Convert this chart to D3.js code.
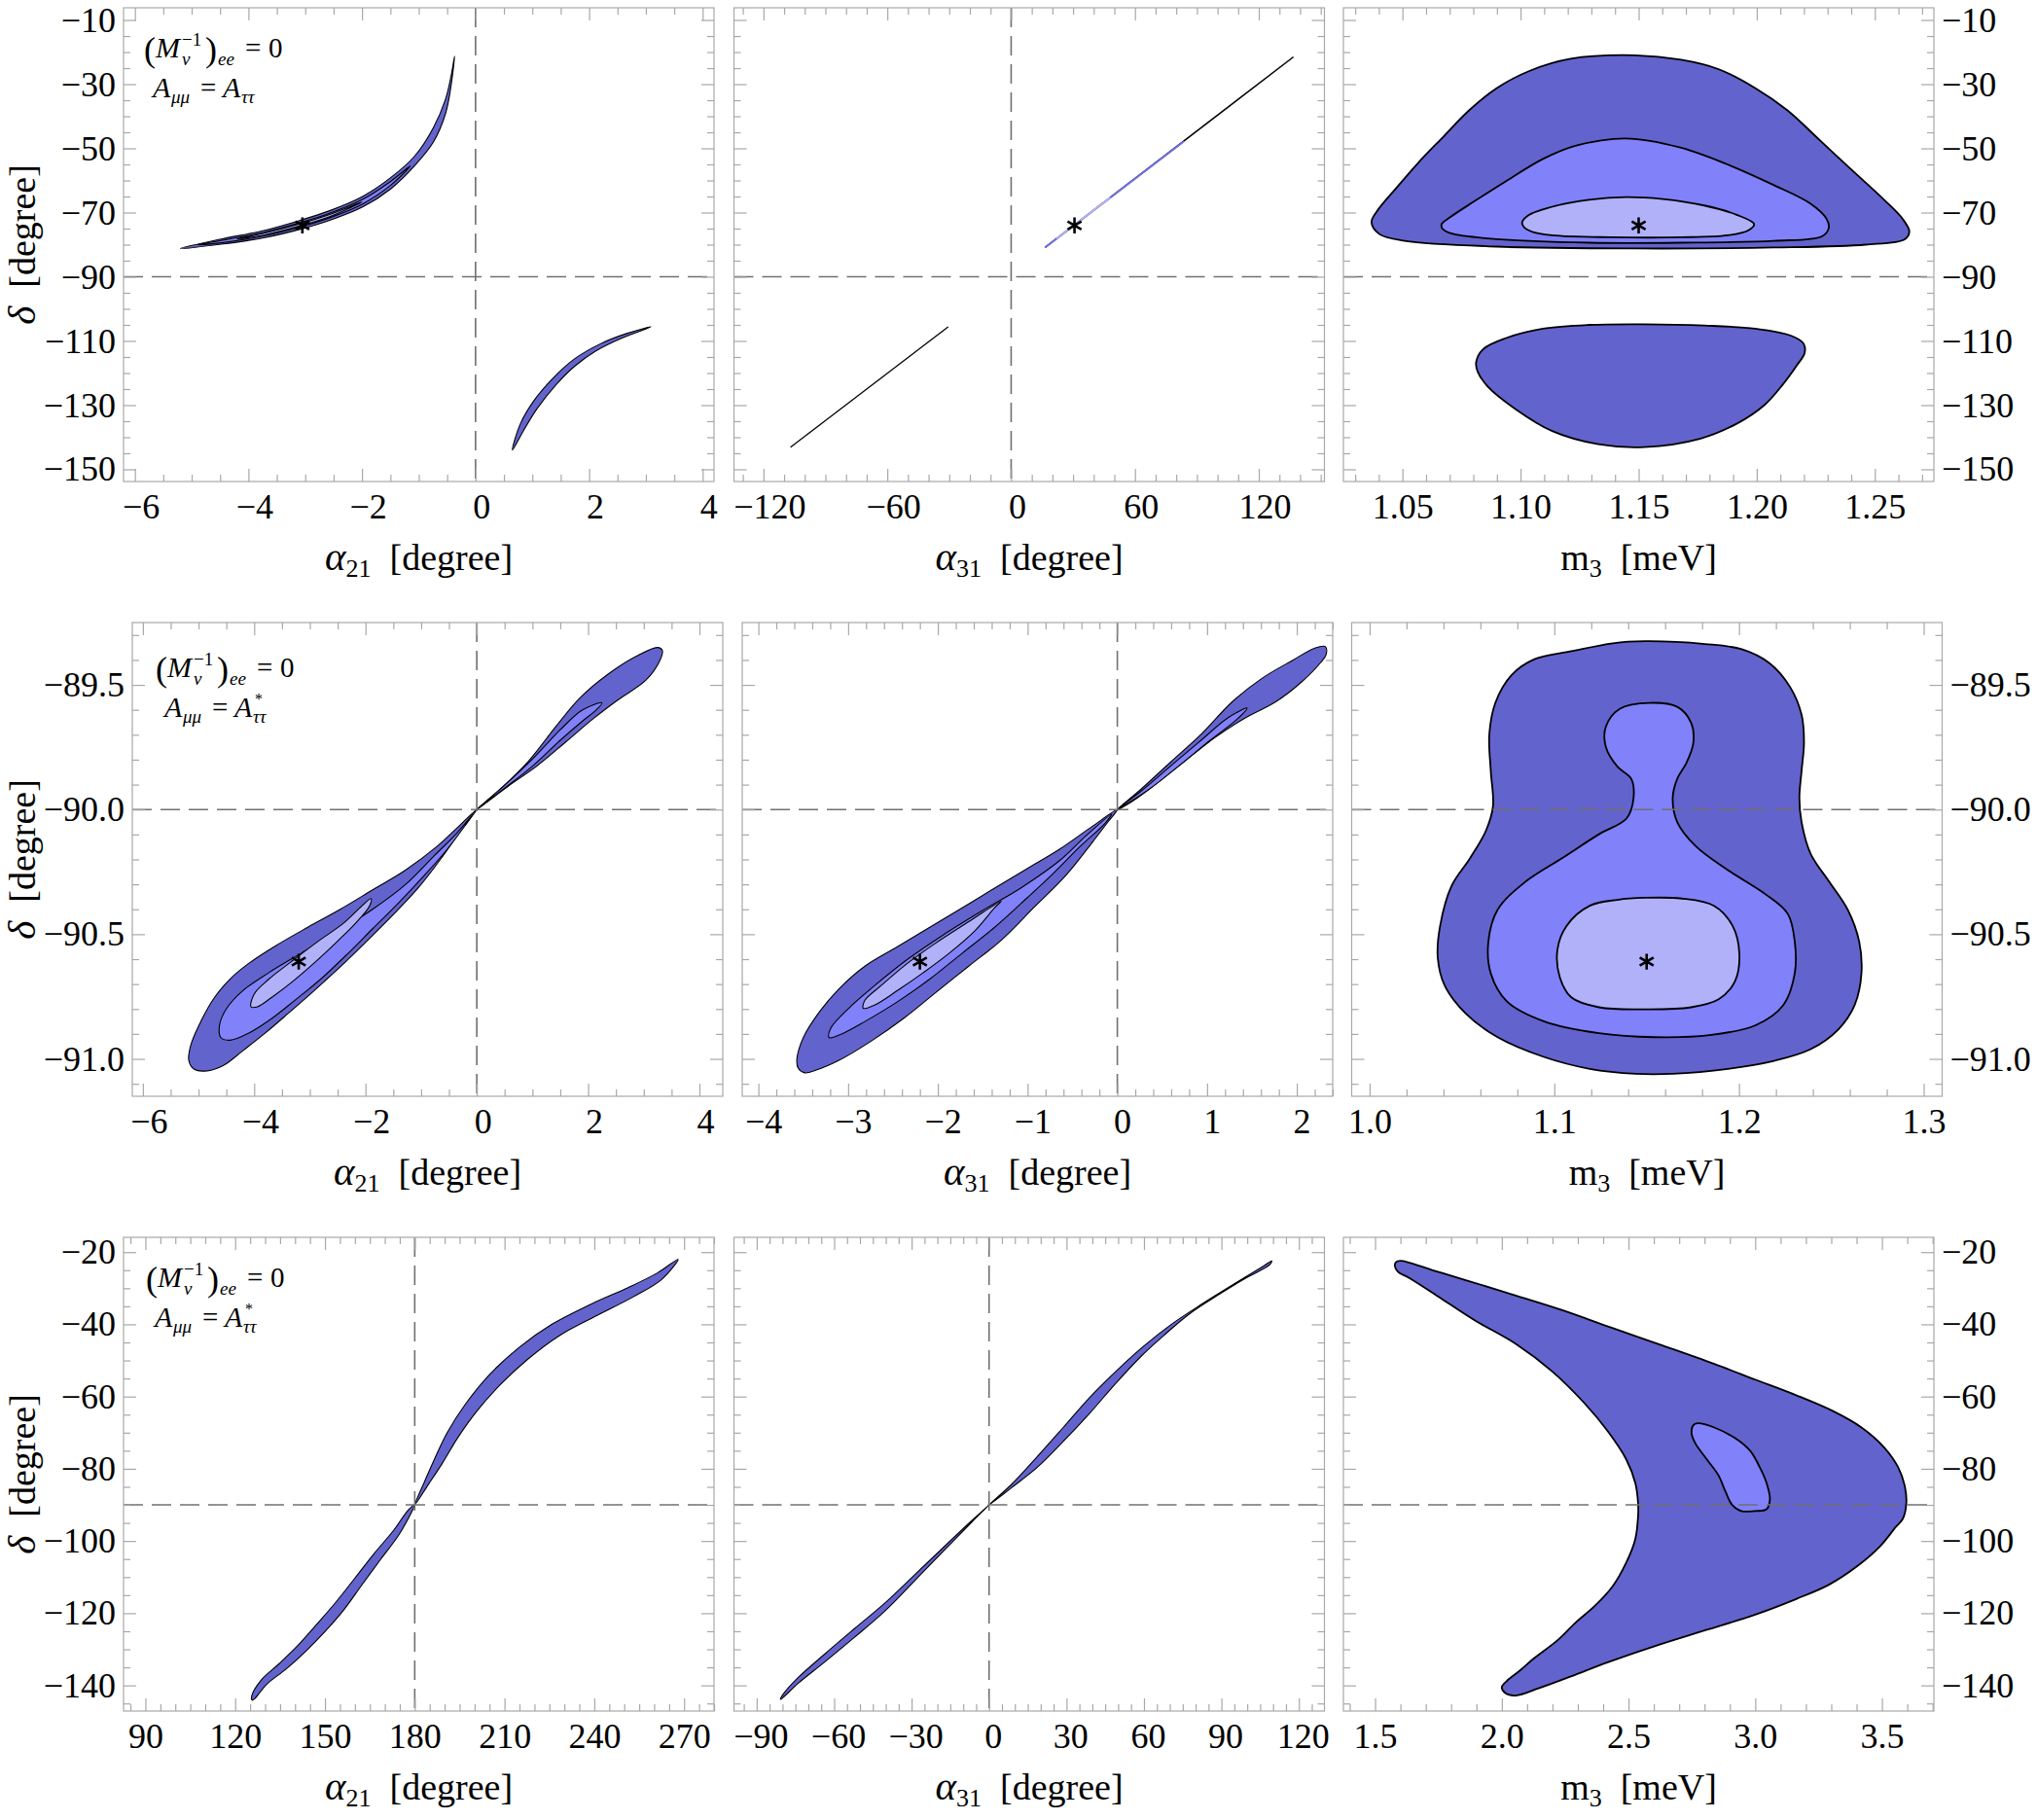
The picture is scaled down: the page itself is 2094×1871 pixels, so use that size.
<!doctype html>
<html>
<head>
<meta charset="utf-8">
<style>
  body { margin: 0; background: #fff; }
  svg { display: block; font-family: "Liberation Serif", "Times New Roman", serif; }
  .frame { fill: none; stroke: #a8a8a8; stroke-width: 1.2; }
  .ax line { stroke: #a8a8a8; stroke-width: 1.2; }
  .ax text { font-family: "Liberation Serif", serif; font-size: 36px; fill: #000; }
  .dash { stroke: #707070; stroke-width: 1.6; stroke-dasharray: 20 9; fill: none; }
  .title { font-size: 38px; fill: #000; }
  .ann text { fill: #000; }
</style>
<script src="https://d3js.org/d3.v7.min.js"></script>
</head>
<body>
<svg width="2094" height="1871"></svg>
<script>
// ---------- tick values / labels ----------
var tDelta1 = [-10, -30, -50, -70, -90, -110, -130, -150],
    lDelta1 = ["−10", "−30", "−50", "−70", "−90", "−110", "−130", "−150"];
var tDelta2 = [-89.5, -90, -90.5, -91],
    lDelta2 = ["−89.5", "−90.0", "−90.5", "−91.0"];
var tDelta3 = [-20, -40, -60, -80, -100, -120, -140],
    lDelta3 = ["−20", "−40", "−60", "−80", "−100", "−120", "−140"];

var tA21_1 = [-6, -4, -2, 0, 2, 4], lA21_1 = ["−6", "−4", "−2", "0", "2", "4"];
var tA31_1 = [-120, -60, 0, 60, 120], lA31_1 = ["−120", "−60", "0", "60", "120"];
var tM3_1 = [1.05, 1.10, 1.15, 1.20, 1.25], lM3_1 = ["1.05", "1.10", "1.15", "1.20", "1.25"];
var tA21_2 = [-6, -4, -2, 0, 2, 4], lA21_2 = ["−6", "−4", "−2", "0", "2", "4"];
var tA31_2 = [-4, -3, -2, -1, 0, 1, 2], lA31_2 = ["−4", "−3", "−2", "−1", "0", "1", "2"];
var tM3_2 = [1.0, 1.1, 1.2, 1.3], lM3_2 = ["1.0", "1.1", "1.2", "1.3"];
var tA21_3 = [90, 120, 150, 180, 210, 240, 270], lA21_3 = ["90", "120", "150", "180", "210", "240", "270"];
var tA31_3 = [-90, -60, -30, 0, 30, 60, 90, 120], lA31_3 = ["−90", "−60", "−30", "0", "30", "60", "90", "120"];
var tM3_3 = [1.5, 2.0, 2.5, 3.0, 3.5], lM3_3 = ["1.5", "2.0", "2.5", "3.0", "3.5"];

// ---------- contour regions, [x, delta] ----------
// row 1 : A_mumu = A_tautau
var r1a21DarkUp = [[-5.2,-81.2],[-4.48,-78.27],[-3.73,-75.59],[-3.07,-72.32],[-2.57,-69.43],[-1.99,-64.98],[-1.49,-59.06],[-1.07,-52.34],[-0.74,-43.45],[-0.53,-34.73],[-0.43,-27.34],[-0.37,-21.3],[-0.43,-30.34],[-0.53,-39.23],[-0.74,-47.95],[-1.07,-55.34],[-1.49,-62.56],[-1.99,-68.28],[-2.57,-72.43],[-3.07,-75.12],[-3.73,-77.89],[-4.48,-79.87]];
var r1a21MidUp = [[-4.9,-80.0],[-4.48,-78.72],[-3.73,-76.19],[-3.07,-73.07],[-2.57,-70.23],[-1.99,-65.93],[-1.49,-60.21],[-1.15,-55.5],[-1.49,-61.41],[-1.99,-67.33],[-2.57,-71.63],[-3.07,-74.37],[-3.73,-77.29],[-4.48,-79.42]];
var r1a21LightUp = [[-4.2,-78.2],[-3.73,-76.46],[-3.07,-73.4],[-2.57,-70.58],[-2.0,-66.7],[-2.57,-71.28],[-3.07,-74.05],[-3.73,-77.02]];
var r1a21DarkLow = [[0.65,-144.0],[0.79,-135.8],[1.04,-128.3],[1.38,-121.3],[1.75,-115.5],[2.21,-110.8],[2.66,-107.7],[3.09,-105.6],[2.58,-109.1],[2.12,-113.1],[1.75,-117.8],[1.42,-123.6],[1.08,-131.2],[0.84,-138.1]];

var r1a31LineUp = [[16.4,-80.9],[136.8,-21.5]];
var r1a31BlueUp = [[16.4,-80.9],[83.8,-47.8]];
var r1a31PaleUp = [[22,-78.1],[48,-65.3]];
var r1a31LineLow = [[-106.9,-143.1],[-30.5,-105.6]];

var r1m3DarkUp = [[1.0369,-73.0],[1.0393,-69.5],[1.0471,-62.6],[1.0568,-54.4],[1.0666,-46.9],[1.0783,-38.1],[1.0900,-31.2],[1.1037,-25.9],[1.1212,-22.1],[1.1485,-21.0],[1.1680,-22.4],[1.1837,-25.3],[1.1993,-31.2],[1.2129,-38.1],[1.2266,-47.4],[1.2402,-56.7],[1.2539,-66.0],[1.2617,-71.9],[1.2646,-75.9],[1.2627,-78.3],[1.2461,-80.0],[1.2071,-80.9],[1.1485,-81.2],[1.0900,-80.6],[1.0510,-78.8],[1.0402,-76.7]];
var r1m3Mid = [[1.0666,-73.6],[1.0705,-71.3],[1.0802,-66.6],[1.0939,-60.2],[1.1095,-53.3],[1.1232,-49.2],[1.1446,-46.9],[1.1680,-49.8],[1.1876,-55.0],[1.2071,-61.4],[1.2227,-67.2],[1.2295,-71.9],[1.2305,-74.8],[1.2276,-77.4],[1.2071,-78.8],[1.1680,-79.4],[1.1290,-79.4],[1.0900,-78.3],[1.0705,-76.5],[1.0670,-75.1]];
var r1m3Light = [[1.1007,-73.0],[1.1037,-70.7],[1.1154,-67.8],[1.1290,-66.0],[1.1446,-65.2],[1.1602,-65.8],[1.1778,-67.8],[1.1915,-70.7],[1.1989,-73.6],[1.1963,-75.6],[1.1876,-77.1],[1.1680,-77.7],[1.1388,-77.7],[1.1134,-77.1],[1.1046,-75.9],[1.1013,-74.4]];
var r1m3DarkLow = [[1.0812,-116.6],[1.0841,-112.6],[1.0939,-109.1],[1.1095,-106.2],[1.1290,-105.0],[1.1524,-104.8],[1.1778,-105.2],[1.1993,-106.2],[1.2149,-108.5],[1.2198,-110.8],[1.2203,-113.7],[1.2168,-117.8],[1.2110,-123.6],[1.2032,-130.0],[1.1915,-135.8],[1.1759,-140.5],[1.1524,-143.1],[1.1329,-142.2],[1.1134,-138.1],[1.0978,-131.2],[1.0861,-124.2],[1.0818,-119.5]];

// row 2 : A_mumu = A*_tautau (small delta range)
var r2a21DarkA = [[0,-90],[-0.355,-90.074],[-0.705,-90.146],[-1.288,-90.244],[-1.871,-90.322],[-2.453,-90.400],[-3.036,-90.472],[-3.619,-90.547],[-4.085,-90.615],[-4.435,-90.680],[-4.726,-90.758],[-4.959,-90.850],[-5.134,-90.941],[-5.175,-91.006],[-5.076,-91.042],[-4.843,-91.048],[-4.551,-91.026],[-4.202,-90.967],[-3.794,-90.895],[-3.386,-90.817],[-2.920,-90.726],[-2.453,-90.631],[-1.987,-90.530],[-1.521,-90.426],[-1.055,-90.315],[-0.647,-90.198],[-0.297,-90.087]];
var r2a21DarkB = [[0,-90],[0.411,-89.920],[0.920,-89.808],[1.428,-89.665],[1.851,-89.553],[2.360,-89.457],[2.869,-89.385],[3.250,-89.350],[3.334,-89.362],[3.292,-89.401],[3.039,-89.481],[2.530,-89.561],[2.107,-89.633],[1.598,-89.729],[1.089,-89.824],[0.580,-89.904]];
var r2a21MidA = [[-4.621,-90.863],[-4.493,-90.797],[-4.202,-90.726],[-3.735,-90.654],[-3.153,-90.576],[-2.512,-90.491],[-1.871,-90.400],[-1.288,-90.302],[-0.763,-90.185],[-0.355,-90.094],[-0.064,-90.018],[-0.181,-90.055],[-0.530,-90.159],[-0.938,-90.263],[-1.404,-90.374],[-1.871,-90.478],[-2.337,-90.582],[-2.803,-90.680],[-3.269,-90.765],[-3.677,-90.837],[-4.085,-90.895],[-4.435,-90.925],[-4.598,-90.915]];
var r2a21MidB = [[0,-90],[0.5,-89.903],[1.0,-89.798],[1.5,-89.68],[1.9,-89.60],[2.25,-89.572],[2.15,-89.60],[1.9,-89.645],[1.5,-89.722],[1.0,-89.826],[0.5,-89.914]];
var r2a21Light = [[-4.056,-90.791],[-3.998,-90.739],[-3.735,-90.680],[-3.328,-90.609],[-2.861,-90.530],[-2.395,-90.456],[-1.900,-90.357],[-1.929,-90.387],[-2.162,-90.452],[-2.512,-90.530],[-2.920,-90.615],[-3.328,-90.693],[-3.677,-90.752],[-3.939,-90.791]];

var r2a31DarkA = [[0,-90],[-0.282,-90.068],[-0.644,-90.159],[-1.005,-90.237],[-1.367,-90.315],[-1.728,-90.394],[-2.090,-90.472],[-2.451,-90.550],[-2.813,-90.628],[-3.102,-90.719],[-3.319,-90.811],[-3.500,-90.915],[-3.572,-91.006],[-3.554,-91.039],[-3.482,-91.056],[-3.355,-91.045],[-3.102,-91.006],[-2.740,-90.928],[-2.379,-90.837],[-2.017,-90.732],[-1.656,-90.628],[-1.294,-90.524],[-0.933,-90.394],[-0.571,-90.263],[-0.282,-90.133],[-0.101,-90.048]];
var r2a31DarkB = [[0,-90],[0.259,-89.920],[0.599,-89.808],[0.937,-89.697],[1.277,-89.569],[1.615,-89.473],[1.955,-89.401],[2.196,-89.353],[2.317,-89.346],[2.327,-89.378],[2.269,-89.409],[2.051,-89.489],[1.760,-89.569],[1.422,-89.633],[1.082,-89.713],[0.744,-89.808],[0.405,-89.904],[0.163,-89.968]];
var r2a31MidA = [[-3.210,-90.915],[-3.192,-90.876],[-2.993,-90.797],[-2.704,-90.706],[-2.343,-90.602],[-1.945,-90.504],[-1.511,-90.407],[-1.077,-90.315],[-0.644,-90.205],[-0.354,-90.107],[-0.065,-90.018],[-0.137,-90.055],[-0.426,-90.152],[-0.716,-90.257],[-1.005,-90.354],[-1.367,-90.472],[-1.728,-90.576],[-2.090,-90.680],[-2.451,-90.771],[-2.813,-90.850],[-3.066,-90.899]];
var r2a31MidB = [[0,-90],[0.259,-89.928],[0.599,-89.824],[0.937,-89.721],[1.228,-89.633],[1.446,-89.593],[1.325,-89.641],[1.034,-89.722],[0.695,-89.822],[0.356,-89.918]];
var r2a31Light = [[-2.831,-90.797],[-2.813,-90.765],[-2.632,-90.706],[-2.343,-90.618],[-2.017,-90.534],[-1.656,-90.450],[-1.294,-90.367],[-1.367,-90.394],[-1.584,-90.485],[-1.873,-90.576],[-2.162,-90.654],[-2.451,-90.726],[-2.704,-90.784]];

var r2m3Dark = [[1.1491,-89.325],[1.1815,-89.336],[1.2015,-89.357],[1.2165,-89.413],[1.2277,-89.509],[1.2339,-89.620],[1.2352,-89.732],[1.2339,-89.844],[1.2327,-89.955],[1.2339,-90.051],[1.2389,-90.179],[1.2489,-90.290],[1.2589,-90.402],[1.2651,-90.530],[1.2663,-90.657],[1.2626,-90.785],[1.2539,-90.881],[1.2389,-90.961],[1.2190,-91.008],[1.1940,-91.040],[1.1641,-91.060],[1.1441,-91.060],[1.1192,-91.040],[1.0943,-90.992],[1.0693,-90.913],[1.0519,-90.817],[1.0406,-90.705],[1.0369,-90.594],[1.0382,-90.466],[1.0444,-90.306],[1.0544,-90.195],[1.0631,-90.083],[1.0668,-89.987],[1.0656,-89.844],[1.0648,-89.700],[1.0681,-89.572],[1.0768,-89.461],[1.0893,-89.397],[1.1092,-89.365],[1.1317,-89.333]];
var r2m3Mid = [[1.1516,-89.572],[1.1666,-89.588],[1.1741,-89.652],[1.1753,-89.732],[1.1716,-89.812],[1.1666,-89.876],[1.1641,-89.955],[1.1666,-90.051],[1.1766,-90.147],[1.1940,-90.243],[1.2140,-90.338],[1.2264,-90.418],[1.2302,-90.530],[1.2302,-90.657],[1.2239,-90.785],[1.2090,-90.865],[1.1840,-90.905],[1.1541,-90.913],[1.1242,-90.897],[1.0943,-90.849],[1.0743,-90.769],[1.0656,-90.657],[1.0643,-90.530],[1.0693,-90.402],[1.0843,-90.290],[1.1042,-90.195],[1.1242,-90.099],[1.1392,-90.035],[1.1429,-89.955],[1.1416,-89.876],[1.1342,-89.828],[1.1279,-89.748],[1.1279,-89.668],[1.1354,-89.596]];
var r2m3Light = [[1.1491,-90.354],[1.1691,-90.357],[1.1865,-90.386],[1.1965,-90.466],[1.2002,-90.578],[1.1978,-90.689],[1.1890,-90.761],[1.1741,-90.793],[1.1491,-90.801],[1.1242,-90.793],[1.1092,-90.753],[1.1030,-90.673],[1.1017,-90.562],[1.1067,-90.466],[1.1192,-90.386],[1.1342,-90.362]];

// row 3 : A_mumu = A*_tautau (wide delta range)
var r3a21DarkA = [[180,-90],[178.9,-92.05],[174.6,-98.4],[168.5,-105.2],[162.3,-112.2],[156.2,-119.2],[149.9,-125.2],[143.4,-130.7],[137.0,-135.5],[130.5,-139.7],[126.6,-143.6],[125.7,-144.1],[125.5,-143.0],[128.7,-138.5],[134.8,-133.9],[141.0,-128.9],[147.1,-123.2],[153.4,-117.2],[159.9,-110.4],[166.3,-103.6],[172.8,-97.2],[177.9,-91.35]];
var r3a21DarkB = [[180,-90],[183.2,-83.7],[186.6,-77.3],[190.9,-69.9],[197.1,-61.9],[205.0,-53.9],[214.7,-46.5],[226.0,-39.9],[238.9,-34.4],[251.6,-29.7],[261.2,-25.7],[268.0,-22.0],[262.6,-27.5],[253.2,-32.3],[240.8,-37.6],[228.4,-43.1],[217.7,-49.7],[208.6,-56.7],[200.7,-64.1],[194.3,-71.5],[189.2,-78.5],[184.6,-84.3]];

var r3a31DarkA = [[0,-90],[-6.6,-94.7],[-16.7,-102.1],[-28.4,-110.7],[-40.2,-119.3],[-52.0,-126.6],[-63.8,-133.6],[-73.9,-139.4],[-80.8,-143.9],[-79.8,-142.5],[-73.9,-137.8],[-63.8,-131.4],[-52.0,-124.2],[-40.2,-117.1],[-28.4,-109.1],[-16.7,-101.1],[-6.6,-94.3]];
var r3a31DarkB = [[0,-90],[8.6,-84.4],[18.7,-76.6],[28.8,-68.5],[38.9,-60.3],[49.0,-53.1],[59.1,-46.5],[70.8,-39.9],[82.6,-34.3],[96.1,-28.3],[106.2,-23.9],[109.5,-22.4],[108.7,-23.5],[99.4,-27.2],[89.3,-31.6],[77.6,-37.1],[67.5,-43.2],[59.1,-48.7],[49.0,-56.4],[38.9,-64.7],[28.8,-72.4],[18.7,-79.6],[8.6,-85.3]];

var r3m3Dark = [[1.582,-22.8],[1.600,-22.4],[1.727,-25.0],[1.855,-27.7],[2.036,-31.6],[2.236,-36.0],[2.436,-41.0],[2.636,-45.9],[2.836,-50.9],[3.000,-55.3],[3.164,-59.7],[3.309,-64.1],[3.418,-68.5],[3.509,-74.1],[3.564,-79.6],[3.591,-85.1],[3.596,-89.8],[3.582,-93.9],[3.555,-96.1],[3.491,-101.6],[3.400,-107.1],[3.291,-112.1],[3.164,-116.0],[3.000,-120.4],[2.800,-124.8],[2.600,-129.2],[2.418,-133.6],[2.273,-137.5],[2.145,-140.8],[2.055,-142.8],[2.015,-142.2],[2.000,-140.5],[2.018,-138.9],[2.073,-135.8],[2.127,-132.5],[2.218,-127.6],[2.291,-122.6],[2.364,-118.2],[2.436,-112.7],[2.491,-106.0],[2.527,-99.4],[2.538,-92.8],[2.538,-89.8],[2.527,-84.0],[2.491,-77.4],[2.418,-69.6],[2.327,-61.9],[2.200,-53.1],[2.055,-45.4],[1.891,-38.8],[1.745,-32.1],[1.636,-27.2],[1.591,-25.5],[1.578,-23.9]];
var r3m3Mid = [[2.755,-68.0],[2.773,-67.4],[2.836,-68.5],[2.927,-71.8],[2.982,-75.2],[3.018,-79.6],[3.045,-84.0],[3.058,-88.4],[3.045,-91.2],[3.000,-91.7],[2.945,-91.7],[2.909,-90.0],[2.882,-86.2],[2.855,-81.8],[2.809,-77.4],[2.764,-73.0],[2.749,-70.2]];

// best-fit points [x, delta]
var best1 = [[-3.05, -74], [30.7, -74], [1.15, -74]];
var best2 = [[-3.2, -90.61], [-2.2, -90.61], [1.15, -90.61]];

// ---------- layout ----------
var W = 607, H = 487;
var rowTop = [8, 640, 1272];
var colLeft = [[127, 754.5, 1381], [136, 763, 1389.5], [127, 754.5, 1381]];
var fills = ["#6363cd", "#8181f9", "#b1b1fa"];

var panels = [
  {row:0, col:0, xDom:[-6.2, 4.2], yDom:[-153.8, -6.2], xt:tA21_1, xl:lA21_1, xm:0.5, yt:tDelta1, yl:lDelta1, ym:5, dx:6,
   regions:[[r1a21DarkUp,0],[r1a21MidUp,1],[r1a21LightUp,2],[r1a21DarkLow,0]], sw:1.1, vref:0, star:best1[0]},
  {row:0, col:1, xDom:[-134.3, 151.8], yDom:[-153.8, -6.2], xt:tA31_1, xl:lA31_1, xm:10, yt:tDelta1, yl:lDelta1, ym:5, dx:6,
   regions:[], lines:[[r1a31LineUp,"#000",1.5],[r1a31BlueUp,"#7272e6",2],[r1a31PaleUp,"#b8b8ee",1.6],[r1a31LineLow,"#000",1.3]], vref:0, star:best1[1]},
  {row:0, col:2, xDom:[1.025, 1.275], yDom:[-153.8, -6.2], xt:tM3_1, xl:lM3_1, xm:0.01, yt:tDelta1, yl:lDelta1, ym:5, dx:0,
   regions:[[r1m3DarkUp,0],[r1m3Mid,1],[r1m3Light,2],[r1m3DarkLow,0]], sw:1.8, star:best1[2]},

  {row:1, col:0, xDom:[-6.19, 4.42], yDom:[-91.15, -89.25], xt:tA21_2, xl:lA21_2, xm:0.5, yt:tDelta2, yl:lDelta2, ym:0.1, dx:6,
   regions:[[r2a21DarkA,0],[r2a21DarkB,0],[r2a21MidA,1],[r2a21MidB,1],[r2a21Light,2]], sw:1.1, vref:0, star:best2[0]},
  {row:1, col:1, xDom:[-4.18, 2.40], yDom:[-91.15, -89.25], xt:tA31_2, xl:lA31_2, xm:0.2, yt:tDelta2, yl:lDelta2, ym:0.1, dx:5,
   regions:[[r2a31DarkA,0],[r2a31DarkB,0],[r2a31MidA,1],[r2a31MidB,1],[r2a31Light,2]], sw:1.1, vref:0, star:best2[1]},
  {row:1, col:2, xDom:[0.9903, 1.31], yDom:[-91.15, -89.25], xt:tM3_2, xl:lM3_2, xm:0.02, yt:tDelta2, yl:lDelta2, ym:0.1, dx:0,
   regions:[[r2m3Dark,0],[r2m3Mid,1],[r2m3Light,2]], sw:1.8, star:best2[2]},

  {row:2, col:0, xDom:[82.7, 280], yDom:[-147.1, -15.9], xt:tA21_3, xl:lA21_3, xm:5, yt:tDelta3, yl:lDelta3, ym:5, dx:0,
   regions:[[r3a21DarkA,0],[r3a21DarkB,0]], sw:1.1, vref:180},
  {row:2, col:1, xDom:[-98.8, 129.9], yDom:[-147.1, -15.9], xt:tA31_3, xl:lA31_3, xm:5, yt:tDelta3, yl:lDelta3, ym:5, dx:4,
   regions:[[r3a31DarkA,0],[r3a31DarkB,0]], sw:1.1, vref:0},
  {row:2, col:2, xDom:[1.375, 3.705], yDom:[-147.1, -15.9], xt:tM3_3, xl:lM3_3, xm:0.1, yt:tDelta3, yl:lDelta3, ym:5, dx:0,
   regions:[[r3m3Dark,0],[r3m3Mid,1]], sw:1.8}
];

var annPos = [[21, 51], [24, 56], [23, 51]];

var svg = d3.select("svg");
svg.append("rect").attr("width", 2094).attr("height", 1871).attr("fill", "#fff");

function minorTicks(dom, step, majors) {
  var lo = Math.min(dom[0], dom[1]), hi = Math.max(dom[0], dom[1]), out = [];
  for (var k = Math.ceil(lo / step - 1e-9); k * step <= hi + 1e-9; k++) {
    var v = +(k * step).toFixed(6);
    if (!majors.some(function(m) { return Math.abs(m - v) < step * 1e-3; })) out.push(v);
  }
  return out;
}

function drawAxes(g, p, x, y) {
  var xMinor = minorTicks(p.xDom, p.xm, p.xt),
      yMinor = minorTicks(p.yDom, p.ym, p.yt);
  // bottom
  g.append("g").attr("class", "ax").attr("transform", "translate(0," + H + ")")
   .call(d3.axisBottom(x).tickValues(xMinor).tickSize(-7).tickFormat(""));
  g.append("g").attr("class", "ax").attr("transform", "translate(0," + H + ")")
   .call(d3.axisBottom(x).tickValues(p.xt).tickSize(-13).tickPadding(12)
         .tickFormat(function(d, i) { return p.xl[i]; }))
   .selectAll("text").attr("dx", p.dx);
  // top
  g.append("g").attr("class", "ax").call(d3.axisTop(x).tickValues(xMinor).tickSize(-7).tickFormat(""));
  g.append("g").attr("class", "ax").call(d3.axisTop(x).tickValues(p.xt).tickSize(-13).tickFormat(""));
  // left
  g.append("g").attr("class", "ax").call(d3.axisLeft(y).tickValues(yMinor).tickSize(-7).tickFormat(""));
  g.append("g").attr("class", "ax").call(d3.axisLeft(y).tickValues(p.yt).tickSize(-13).tickPadding(8)
     .tickFormat(function(d, i) { return p.col === 0 ? p.yl[i] : ""; }));
  // right
  g.append("g").attr("class", "ax").attr("transform", "translate(" + W + ",0)")
   .call(d3.axisRight(y).tickValues(yMinor).tickSize(-7).tickFormat(""));
  g.append("g").attr("class", "ax").attr("transform", "translate(" + W + ",0)")
   .call(d3.axisRight(y).tickValues(p.yt).tickSize(-13).tickPadding(8)
     .tickFormat(function(d, i) { return p.col === 2 ? p.yl[i] : ""; }));
  g.selectAll(".ax .domain").remove();
}

function annotation(g, row) {
  var a = g.append("g").attr("class", "ann")
           .attr("transform", "translate(" + annPos[row][0] + "," + annPos[row][1] + ")");
  function t(x, y, size, str, italic) {
    a.append("text").attr("x", x).attr("y", y).attr("font-size", size)
     .attr("font-style", italic ? "italic" : null).text(str);
  }
  // (M_nu^-1)_ee = 0
  t(0, 4, 36, "(");
  t(12, 0, 30, "M", true);
  t(39, -12, 19, "−1");
  t(39, 8, 19, "ν", true);
  t(63, 4, 36, ")");
  t(76, 8, 19, "ee", true);
  t(104, 0, 29, "=");
  t(128, 0, 29, "0");
  // A_mumu = A_tautau (conjugate on rows 2 and 3)
  t(9, 41, 30, "A", true);
  t(28, 47, 19, "μμ", true);
  t(58, 41, 29, "=");
  t(81, 41, 30, "A", true);
  if (row > 0) t(102, 28, 16, "*");
  t(100, 47, 19, "ττ", true);
}

panels.forEach(function(p) {
  var left = colLeft[p.row][p.col], top = rowTop[p.row];
  var g = svg.append("g").attr("transform", "translate(" + left + "," + top + ")");
  var x = d3.scaleLinear().domain(p.xDom).range([0, W]);
  var y = d3.scaleLinear().domain(p.yDom).range([H, 0]);

  var blob = d3.line().x(function(d) { return x(d[0]); }).y(function(d) { return y(d[1]); })
               .curve(d3.curveCatmullRomClosed.alpha(0.5));
  var seg = d3.line().x(function(d) { return x(d[0]); }).y(function(d) { return y(d[1]); });

  p.regions.forEach(function(r) {
    g.append("path").attr("d", blob(r[0])).attr("fill", fills[r[1]])
     .attr("stroke", "#000").attr("stroke-width", p.sw).attr("stroke-linejoin", "round");
  });
  (p.lines || []).forEach(function(l) {
    g.append("path").attr("d", seg(l[0])).attr("fill", "none")
     .attr("stroke", l[1]).attr("stroke-width", l[2]);
  });

  // reference lines
  if (p.vref !== undefined)
    g.append("line").attr("class", "dash").attr("x1", x(p.vref)).attr("x2", x(p.vref)).attr("y1", 0).attr("y2", H);
  g.append("line").attr("class", "dash").attr("x1", 0).attr("x2", W).attr("y1", y(-90)).attr("y2", y(-90));

  if (p.star)
    g.append("path").attr("d", d3.symbol(d3.symbolAsterisk, 190)())
     .attr("transform", "translate(" + x(p.star[0]) + "," + y(p.star[1]) + ")")
     .attr("fill", "none").attr("stroke", "#000").attr("stroke-width", 2.6);

  g.append("rect").attr("class", "frame").attr("width", W).attr("height", H);
  drawAxes(g, p, x, y);

  // x title
  var xt = g.append("text").attr("class", "title").attr("x", W / 2).attr("y", H + 91)
            .attr("text-anchor", "middle");
  if (p.col < 2) {
    xt.append("tspan").attr("font-style", "italic").attr("font-size", 41).text("α");
    xt.append("tspan").attr("font-size", 26).attr("dy", 7).text(p.col === 0 ? "21" : "31");
  } else {
    xt.append("tspan").text("m");
    xt.append("tspan").attr("font-size", 26).attr("dy", 7).text("3");
  }
  xt.append("tspan").attr("dy", -7).text(p.col < 2 ? "\u00a0\u00a0[degree]" : "\u00a0\u00a0[meV]");

  if (p.col === 0) {
    var yt = g.append("text").attr("class", "title")
              .attr("transform", "translate(" + (36 - left) + "," + H / 2 + ") rotate(-90)")
              .attr("text-anchor", "middle");
    yt.append("tspan").attr("font-style", "italic").attr("font-size", 41).text("δ");
    yt.append("tspan").text("\u00a0\u00a0[degree]");
    annotation(g, p.row);
  }
});
</script>
</body>
</html>
